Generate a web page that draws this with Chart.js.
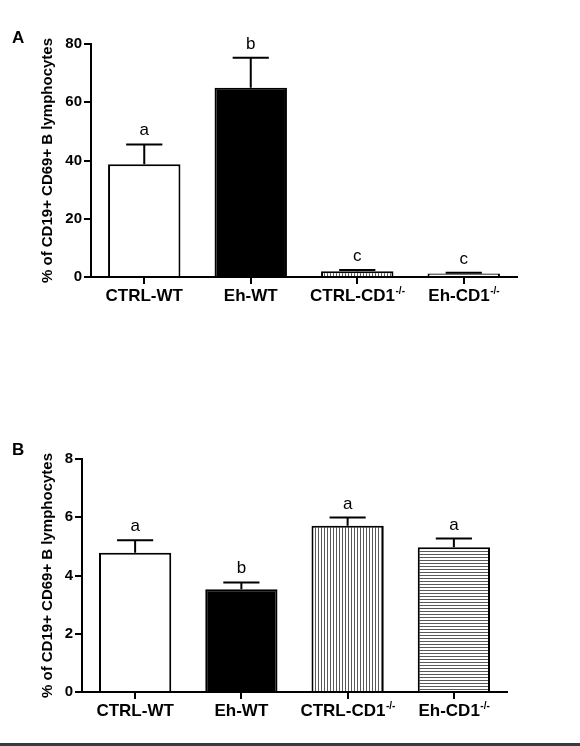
<!DOCTYPE html>
<html>
<head>
<meta charset="utf-8">
<script src="https://cdn.jsdelivr.net/npm/chart.js@4/dist/chart.umd.min.js"></script>
<style>
  html, body { margin: 0; padding: 0; background: #fff; width: 580px; height: 746px; overflow: hidden; }
  .wrap { position: absolute; left: 0; width: 580px; }
  #bottomLine { position: absolute; left: 0; top: 743px; width: 580px; height: 3px; background: #3a3a3a; }
</style>
</head>
<body>
<div class="wrap" style="top:0;height:320px;"><canvas id="chartA" width="580" height="320" style="width:580px;height:320px;"></canvas></div>
<div class="wrap" style="top:380px;height:366px;"><canvas id="chartB" width="580" height="366" style="width:580px;height:366px;"></canvas></div>
<div id="bottomLine"></div>
<script>
// ---- data ----
const categories = ['CTRL-WT', 'Eh-WT', 'CTRL-CD1', 'Eh-CD1'];
const labelSuperscripts = ['', '', '-/-', '-/-'];
const yAxisTitle = '% of CD19+ CD69+ B lymphocytes';

const panelAValues = [38.7, 65.0, 2.0, 1.2];
const panelAErrors = [6.8, 10.3, 0.4, 0.3];
const panelALetters = ['a', 'b', 'c', 'c'];
const panelATicks = [0, 20, 40, 60, 80];

const panelBValues = [4.78, 3.53, 5.71, 4.97];
const panelBErrors = [0.43, 0.23, 0.28, 0.30];
const panelBLetters = ['a', 'b', 'a', 'a'];
const panelBTicks = [0, 2, 4, 6, 8];

// ---- styling helpers ----
Chart.defaults.font.family = '"Liberation Sans", Arial, sans-serif';
Chart.defaults.color = '#000';

function stripePattern(vertical) {
  const c = document.createElement('canvas');
  c.width = 3; c.height = 3;
  const g = c.getContext('2d');
  g.fillStyle = '#fff';
  g.fillRect(0, 0, 3, 3);
  g.fillStyle = '#5a5a5a';
  if (vertical) g.fillRect(0, 0, 1, 3); else g.fillRect(0, 0, 3, 1);
  return g.createPattern(c, 'repeat');
}

function makeFills(ctx) {
  return ['#ffffff', '#000000', stripePattern(true), stripePattern(false)];
}

const decorPlugin = {
  id: 'decor',
  afterDatasetsDraw(chart) {
    const o = chart.options.plugins.decor;
    const ctx = chart.ctx;
    const ys = chart.scales.y, xs = chart.scales.x;
    const meta = chart.getDatasetMeta(0);
    ctx.save();
    // error bars
    ctx.strokeStyle = '#000';
    ctx.lineWidth = 2;
    ctx.lineCap = 'butt';
    o.values.forEach((v, i) => {
      const bar = meta.data[i];
      const x = bar.x;
      const halfCap = bar.width / 4;
      const yv = ys.getPixelForValue(v);
      const ye = ys.getPixelForValue(v + o.errors[i]);
      ctx.beginPath();
      ctx.moveTo(x, yv);
      ctx.lineTo(x, ye);
      ctx.moveTo(x - halfCap, ye);
      ctx.lineTo(x + halfCap, ye);
      ctx.stroke();
      // significance letter
      ctx.fillStyle = '#000';
      ctx.font = '17px "Liberation Sans", Arial, sans-serif';
      ctx.textAlign = 'center';
      ctx.textBaseline = 'alphabetic';
      ctx.fillText(o.letters[i], x, ye - 9);
    });
    // x labels with superscripts
    const baseY = chart.chartArea.bottom + 24;
    categories.forEach((lab, i) => {
      const x = xs.getPixelForValue(i);
      ctx.font = 'bold 17px "Liberation Sans", Arial, sans-serif';
      const mw = ctx.measureText(lab).width;
      ctx.font = 'bold 10px "Liberation Sans", Arial, sans-serif';
      const sup = labelSuperscripts[i];
      const sw = sup ? ctx.measureText(sup).width : 0;
      const start = x - (mw + sw) / 2;
      ctx.textAlign = 'left';
      ctx.textBaseline = 'alphabetic';
      ctx.font = 'bold 17px "Liberation Sans", Arial, sans-serif';
      ctx.fillText(lab, start, baseY);
      if (sup) {
        ctx.font = 'bold 10px "Liberation Sans", Arial, sans-serif';
        ctx.fillText(sup, start + mw + 0.5, baseY - 7);
      }
    });
    // panel letter
    ctx.font = 'bold 17px "Liberation Sans", Arial, sans-serif';
    ctx.textAlign = 'left';
    ctx.fillText(o.panel, o.panelX, o.panelY);
    ctx.restore();
  }
};

function makeChart(id, values, errors, letters, ticks, panel, geo) {
  const canvas = document.getElementById(id);
  const ctx = canvas.getContext('2d');
  return new Chart(ctx, {
    type: 'bar',
    data: {
      labels: categories,
      datasets: [{
        data: values,
        backgroundColor: makeFills(ctx),
        borderColor: '#000',
        borderWidth: 2,
        borderSkipped: 'start',
        barPercentage: 0.68,
        categoryPercentage: 1.0
      }]
    },
    options: {
      responsive: false,
      animation: false,
      devicePixelRatio: 1,
      layout: { padding: { left: 35, right: geo.right, top: geo.top, bottom: geo.bottom } },
      plugins: {
        legend: { display: false },
        tooltip: { enabled: false },
        decor: { values, errors, letters, panel, panelX: geo.panelX, panelY: geo.panelY }
      },
      scales: {
        x: {
          offset: true,
          grid: { display: true, drawOnChartArea: false, drawTicks: true, tickLength: 7, color: '#000', lineWidth: 2, offset: false },
          border: { display: true, color: '#000', width: 2 },
          ticks: { display: false },
          afterFit(s) { s.height = 30; }
        },
        y: {
          min: ticks[0],
          max: ticks[ticks.length - 1],
          afterBuildTicks(s) { s.ticks = ticks.map(v => ({ value: v })); },
          grid: { display: true, drawOnChartArea: false, drawTicks: true, tickLength: 7, color: '#000', lineWidth: 2 },
          border: { display: true, color: '#000', width: 2 },
          ticks: { padding: 2, font: { size: 15, weight: 'bold' }, color: '#000' },
          title: { display: true, text: yAxisTitle, font: { size: 15, weight: 'bold' }, color: '#000', padding: { top: 4, bottom: 4 } },
          afterFit(s) { s.width = geo.yWidth; }
        }
      }
    },
    plugins: [decorPlugin]
  });
}

makeChart('chartA', panelAValues, panelAErrors, panelALetters, panelATicks, 'A',
  { right: 63, top: 44, bottom: 13, yWidth: 56, panelX: 12, panelY: 43 });
makeChart('chartB', panelBValues, panelBErrors, panelBLetters, panelBTicks, 'B',
  { right: 73, top: 79, bottom: 24, yWidth: 47, panelX: 12, panelY: 75 });
</script>
</body>
</html>
